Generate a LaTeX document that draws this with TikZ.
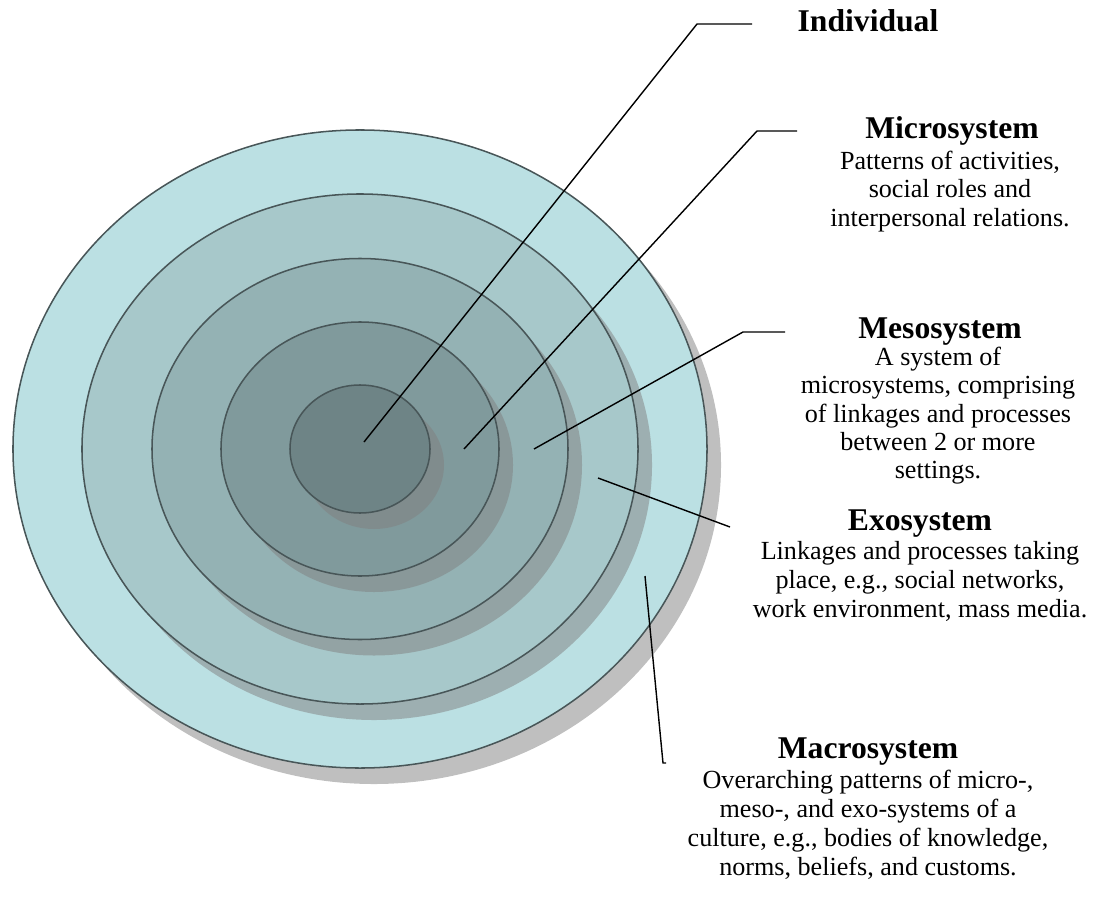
\documentclass[tikz,border=0pt]{standalone}
\usepackage{fontspec}
\setmainfont{Liberation Serif}
\definecolor{c1}{RGB}{187,224,227}
\definecolor{c2}{RGB}{167,200,202}
\definecolor{c3}{RGB}{148,178,180}
\definecolor{c4}{RGB}{128,154,156}
\definecolor{c5}{RGB}{110,132,134}
\definecolor{ringedge}{RGB}{72,86,88}
\definecolor{shadowgray}{RGB}{128,128,128}
\begin{document}
\begin{tikzpicture}[x=0.03cm,y=-0.03cm,
  ring/.style={draw=ringedge,line width=1.3pt},
  shadowfill/.style={fill=shadowgray,fill opacity=0.5},
  conn/.style={draw=black,line width=1.2pt},
  ttl/.style={anchor=base,inner sep=0pt,font=\fontsize{27}{30}\selectfont\bfseries},
  txt/.style={anchor=base,inner sep=0pt,font=\fontsize{22.3}{29}\selectfont}]
\useasboundingbox (0,0) rectangle (1109,899);
% rings, outermost first, each with its shadow
\coordinate (ctr) at (360,449);
\coordinate (sh) at (374,465);
\fill[shadowfill] (sh) ellipse [x radius=10.41cm, y radius=9.57cm];
\filldraw[ring,fill=c1] (ctr) ellipse [x radius=10.41cm, y radius=9.57cm];
\fill[shadowfill] (sh) ellipse [x radius=8.34cm, y radius=7.65cm];
\filldraw[ring,fill=c2] (ctr) ellipse [x radius=8.34cm, y radius=7.65cm];
\fill[shadowfill] (sh) ellipse [x radius=6.24cm, y radius=5.715cm];
\filldraw[ring,fill=c3] (ctr) ellipse [x radius=6.24cm, y radius=5.715cm];
\fill[shadowfill] (sh) ellipse [x radius=4.17cm, y radius=3.81cm];
\filldraw[ring,fill=c4] (ctr) ellipse [x radius=4.17cm, y radius=3.81cm];
\fill[shadowfill] (sh) ellipse [x radius=2.1cm, y radius=1.92cm];
\filldraw[ring,fill=c5] (ctr) ellipse [x radius=2.1cm, y radius=1.92cm];
% connector points
\coordinate (indA) at (364,442);
\coordinate (indB) at (697,24);
\coordinate (indC) at (752,24);
\coordinate (micA) at (464,449);
\coordinate (micB) at (757,131);
\coordinate (micC) at (797,131);
\coordinate (mesA) at (534,449);
\coordinate (mesB) at (743,332);
\coordinate (mesC) at (785,332);
\coordinate (exoA) at (598,478);
\coordinate (exoB) at (730,527);
\coordinate (macA) at (645,576);
\coordinate (macB) at (663,763);
\coordinate (macC) at (666,763);
\draw[conn] (indA) -- (indB) -- (indC);
\draw[conn] (micA) -- (micB) -- (micC);
\draw[conn] (mesA) -- (mesB) -- (mesC);
\draw[conn] (exoA) -- (exoB);
\draw[conn] (macA) -- (macB) -- (macC);
% texts
\node[ttl] (indT) at (868,32) {Individual};
\node[ttl] (micT) at (952,139) {Microsystem};
\node[txt] (mic1) at (950,169) {Patterns of activities,};
\node[txt] (mic2) at (950,197) {social roles and};
\node[txt] (mic3) at (950,226) {interpersonal relations.};
\node[ttl] (mesT) at (940,338) {Mesosystem};
\node[txt] (mes1) at (938,365) {A system of};
\node[txt] (mes2) at (938,393) {microsystems, comprising};
\node[txt] (mes3) at (938,422) {of linkages and processes};
\node[txt] (mes4) at (938,450) {between 2 or more};
\node[txt] (mes5) at (938,478) {settings.};
\node[ttl] (exoT) at (920,530) {Exosystem};
\node[txt] (exo1) at (920,559) {Linkages and processes taking};
\node[txt] (exo2) at (920,588) {place, e.g., social networks,};
\node[txt] (exo3) at (920,617) {work environment, mass media.};
\node[ttl] (macT) at (868,758) {Macrosystem};
\node[txt] (mac1) at (868,788) {Overarching patterns of micro-,};
\node[txt] (mac2) at (868,817) {meso-, and exo-systems of a};
\node[txt] (mac3) at (868,846) {culture, e.g., bodies of knowledge,};
\node[txt] (mac4) at (868,875) {norms, beliefs, and customs.};
\end{tikzpicture}
\end{document}
